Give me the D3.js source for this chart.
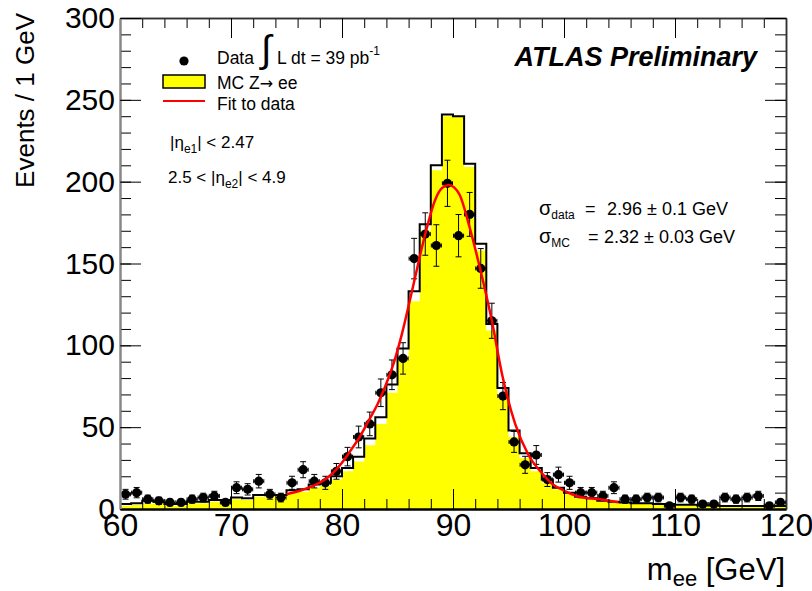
<!DOCTYPE html>
<html>
<head>
<meta charset="utf-8">
<script src="https://cdn.jsdelivr.net/npm/d3@7"></script>
<style>
  body { margin: 0; background: #fff; }
  svg { font-family: "Liberation Sans", Arial, sans-serif; }
</style>
</head>
<body>
<div id="chart"></div>
<script>
// Data: 1 GeV bins from 60 to 120 GeV
const binLow = d3.range(60, 120);

const dataCounts = [
  9, 10, 6, 5, 4, 4, 6, 7, 8, 4,
  13, 12, 17, 9, 7, 16, 24, 17, 16, 23,
  32, 44, 52, 71, 82, 92, 153, 168, 161, 199,
  167, 180, 147, 115, 69, 41, 27, 33, 18, 21,
  16, 10, 10, 8, 13, 6, 6, 7, 7, 2,
  7, 6, 3, 3, 7, 6, 7, 8, 2, 4
];

// MC outline (black step line)
const mcLine = [
  3, 3.5, 5, 4.5, 3, 3, 4.5, 4.5, 5.5, 5.5,
  7, 6.5, 8.5, 8.5, 8.5, 11.5, 12, 15, 16, 20,
  25, 32, 43, 56, 76, 98, 133, 174, 210, 241,
  240, 211, 162, 113, 74, 48, 34, 25, 18, 13,
  10, 7.5, 6.5, 5, 4.5, 4, 3.5, 3.5, 3, 3,
  2.6, 2.6, 2.2, 2.2, 1.8, 1.8, 1.8, 1.8, 1.8, 1.8
];

// MC fill (yellow)
const mcFill = [
  2, 2.5, 3, 3.5, 2, 2, 3.5, 3.5, 4.5, 4.5,
  6, 5.5, 7.5, 7.5, 7.5, 10, 10.5, 13, 14, 18,
  23, 29, 39, 52, 71, 92, 127, 170, 207, 240,
  240, 209, 158, 109, 70, 44, 31, 23, 16, 12,
  9, 6.5, 5.5, 4.5, 4, 3.5, 3, 3, 2.5, 2.5,
  2.2, 2.2, 1.8, 1.8, 1.5, 1.5, 1.5, 1.5, 1.5, 1.5
];

// Fit to data
const fitMass = [75.0, 76.4, 77.6, 78.8, 79.6, 80.3, 80.9, 81.6, 82.4, 83.2, 83.9, 84.7, 85.4, 86.4, 87.5, 88.4, 89.0, 89.6, 90.1, 90.6, 91.5, 92.4, 93.5, 94.4, 95.6, 96.8, 98.0, 99.0, 99.9, 101.4, 103.2, 104.9];
const fitValue = [9, 11.6, 14.7, 19.7, 25, 31, 37, 44, 54, 64, 75, 90, 107, 136, 168, 189, 196, 198, 196.5, 192, 172, 148, 115, 83, 52, 33, 22, 15, 11.6, 7.5, 5.9, 4.1];

const xTicks = [60, 70, 80, 90, 100, 110, 120];
const yTicks = [0, 50, 100, 150, 200, 250, 300];

// Dimensions
const dimensions = {
  width: 812,
  height: 591,
  left: 120,
  right: 786,
  top: 18,
  bottom: 509,
};

const svg = d3
  .select("#chart")
  .append("svg")
  .attr("width", dimensions.width)
  .attr("height", dimensions.height);

// Scales
const xScale = d3.scaleLinear().domain([60, 120]).range([dimensions.left, dimensions.right]);
const yScale = d3.scaleLinear().domain([0, 300]).range([dimensions.bottom, dimensions.top]);

// MC fill
const fillArea = d3
  .area()
  .curve(d3.curveStepAfter)
  .x((d) => xScale(d.x))
  .y0(yScale(0))
  .y1((d) => yScale(d.y));

const fillPts = binLow.map((x, i) => ({ x, y: mcFill[i] }));
fillPts.push({ x: 120, y: mcFill[mcFill.length - 1] });

svg.append("path").attr("d", fillArea(fillPts)).attr("fill", "#ffff00");

// MC outline
const stepLine = d3
  .line()
  .curve(d3.curveStepAfter)
  .x((d) => xScale(d.x))
  .y((d) => yScale(d.y));

const linePts = binLow.map((x, i) => ({ x, y: mcLine[i] }));
linePts.push({ x: 120, y: mcLine[mcLine.length - 1] });

svg
  .append("path")
  .attr("d", stepLine(linePts))
  .attr("fill", "none")
  .attr("stroke", "#000")
  .attr("stroke-width", 2);

// Data points with errors
const pts = svg.append("g");
binLow.forEach((x, i) => {
  const n = dataCounts[i];
  const cx = xScale(x + 0.5);
  const cy = yScale(n);
  const err = Math.sqrt(n);
  const yHi = yScale(n + err);
  const yLo = yScale(Math.max(0, n - err));
  const g = pts.append("g").attr("stroke", "#000").attr("stroke-width", 1);
  g.append("line").attr("x1", cx).attr("x2", cx).attr("y1", yHi).attr("y2", yLo);
  g.append("line").attr("x1", cx - 3).attr("x2", cx + 3).attr("y1", yHi).attr("y2", yHi);
  g.append("line").attr("x1", cx - 3).attr("x2", cx + 3).attr("y1", yLo).attr("y2", yLo);
  const x0 = xScale(x), x1 = xScale(x + 1);
  g.append("line").attr("x1", x0 + 0.5).attr("x2", x1 - 0.5).attr("y1", cy).attr("y2", cy);
  g.append("line").attr("x1", x0 + 0.5).attr("x2", x0 + 0.5).attr("y1", cy - 2).attr("y2", cy + 2);
  g.append("line").attr("x1", x1 - 0.5).attr("x2", x1 - 0.5).attr("y1", cy - 2).attr("y2", cy + 2);
  pts.append("circle").attr("cx", cx).attr("cy", cy).attr("r", 4.6).attr("fill", "#000");
});

// Fit curve
const fitLine = d3
  .line()
  .curve(d3.curveMonotoneX)
  .x((d, i) => xScale(fitMass[i]))
  .y((d) => yScale(d));

svg
  .append("path")
  .attr("d", fitLine(fitValue))
  .attr("fill", "none")
  .attr("stroke", "#ff0000")
  .attr("stroke-width", 2.5);

// Axes (ROOT style, ticks inward on all sides)
const minorX = d3.range(60, 121, 2);
const minorY = d3.range(0, 301, 10);

function styleAxis(g, color, width) {
  g.select(".domain").attr("stroke", color).attr("stroke-width", width);
  g.selectAll(".tick line").attr("stroke", "#000").attr("stroke-width", 1);
}

// bottom
svg.append("g")
  .attr("transform", `translate(0, ${dimensions.bottom})`)
  .call(d3.axisBottom(xScale).tickValues(minorX).tickSize(-10).tickSizeOuter(0).tickFormat(""))
  .call((g) => styleAxis(g, "#000", 2));
const xAxisG = svg.append("g")
  .attr("transform", `translate(0, ${dimensions.bottom})`)
  .call(d3.axisBottom(xScale).tickValues(xTicks).tickSize(-20).tickSizeOuter(0).tickPadding(4))
  .call((g) => styleAxis(g, "#000", 2));
xAxisG.selectAll("text").attr("font-size", 32).attr("fill", "#000").attr("font-family", "Liberation Sans, Arial, sans-serif");

// top
svg.append("g")
  .attr("transform", `translate(0, ${dimensions.top})`)
  .call(d3.axisTop(xScale).tickValues(minorX).tickSize(-10).tickSizeOuter(0).tickFormat(""))
  .call((g) => styleAxis(g, "#333", 1.5));
svg.append("g")
  .attr("transform", `translate(0, ${dimensions.top})`)
  .call(d3.axisTop(xScale).tickValues(xTicks).tickSize(-20).tickSizeOuter(0).tickFormat(""))
  .call((g) => styleAxis(g, "#333", 1.5));

// right
svg.append("g")
  .attr("transform", `translate(${dimensions.right}, 0)`)
  .call(d3.axisRight(yScale).tickValues(minorY).tickSize(-11).tickSizeOuter(0).tickFormat(""))
  .call((g) => styleAxis(g, "#333", 1.5));
svg.append("g")
  .attr("transform", `translate(${dimensions.right}, 0)`)
  .call(d3.axisRight(yScale).tickValues(yTicks).tickSize(-21).tickSizeOuter(0).tickFormat(""))
  .call((g) => styleAxis(g, "#333", 1.5));

// left
svg.append("g")
  .attr("transform", `translate(${dimensions.left}, 0)`)
  .call(d3.axisLeft(yScale).tickValues(minorY).tickSize(-11).tickSizeOuter(0).tickFormat(""))
  .call((g) => styleAxis(g, "#888", 2));
const yAxisG = svg.append("g")
  .attr("transform", `translate(${dimensions.left}, 0)`)
  .call(d3.axisLeft(yScale).tickValues(yTicks).tickSize(-21).tickSizeOuter(0).tickPadding(5))
  .call((g) => styleAxis(g, "#888", 2));
yAxisG.selectAll("text").attr("font-size", 30).attr("fill", "#000").attr("font-family", "Liberation Sans, Arial, sans-serif");

// Axis titles
svg.append("text")
  .attr("transform", "translate(34, 13) rotate(-90)")
  .attr("text-anchor", "end")
  .attr("font-size", 26)
  .text("Events / 1 GeV");

const xTitle = svg.append("text")
  .attr("x", 785)
  .attr("y", 580)
  .attr("text-anchor", "end")
  .attr("font-size", 31);
xTitle.append("tspan").text("m");
xTitle.append("tspan").attr("font-size", 22).attr("dy", 6).text("ee");
xTitle.append("tspan").attr("dy", -6).text(" [GeV]");

// ATLAS label
svg.append("text")
  .attr("x", 757)
  .attr("y", 66)
  .attr("text-anchor", "end")
  .attr("font-size", 27)
  .attr("font-weight", "bold")
  .attr("font-style", "italic")
  .text("ATLAS Preliminary");

// Legend
const legend = svg.append("g").attr("font-size", 17.5);
legend.append("circle").attr("cx", 184).attr("cy", 61).attr("r", 4.6).attr("fill", "#000");
legend.append("text").attr("x", 217).attr("y", 64).text("Data");
legend.append("text").attr("x", 261).attr("y", 62).attr("font-size", 38).text("\u222B");
const lumi = legend.append("text").attr("x", 277).attr("y", 64);
lumi.append("tspan").text("L dt = 39 pb");
lumi.append("tspan").attr("font-size", 12).attr("dy", -9).text("-1");

legend.append("rect")
  .attr("x", 163).attr("y", 75).attr("width", 42).attr("height", 13)
  .attr("fill", "#ffff00").attr("stroke", "#000").attr("stroke-width", 1.5);
const mcText = legend.append("text").attr("x", 217).attr("y", 88.5);
mcText.append("tspan").text("MC Z");
mcText.append("tspan").attr("font-family", "DejaVu Sans").attr("font-size", 16).text("\u2192");
mcText.append("tspan").text(" ee");
legend.append("line")
  .attr("x1", 163).attr("x2", 205).attr("y1", 101).attr("y2", 101)
  .attr("stroke", "#ff0000").attr("stroke-width", 2);
legend.append("text").attr("x", 217).attr("y", 109.5).text("Fit to data");

// Eta cuts
const cuts = svg.append("g").attr("font-size", 17);
const c1 = cuts.append("text").attr("x", 170).attr("y", 148);
c1.append("tspan").text("|\u03B7");
c1.append("tspan").attr("font-size", 12).attr("dy", 5).text("e1");
c1.append("tspan").attr("dy", -5).text("| < 2.47");
const c2 = cuts.append("text").attr("x", 168).attr("y", 183);
c2.append("tspan").text("2.5 < |\u03B7");
c2.append("tspan").attr("font-size", 12).attr("dy", 5).text("e2");
c2.append("tspan").attr("dy", -5).text("| < 4.9");

// Resolutions
const res = svg.append("g").attr("font-size", 18);
const r1 = res.append("text").attr("x", 539).attr("y", 215);
r1.append("tspan").attr("font-size", 20).text("\u03C3");
r1.append("tspan").attr("font-size", 12).attr("dy", 4).text("data");
res.append("text").attr("x", 585).attr("y", 215).text("=");
res.append("text").attr("x", 607).attr("y", 215).text("2.96 \u00B1 0.1 GeV");
const r2 = res.append("text").attr("x", 539).attr("y", 243);
r2.append("tspan").attr("font-size", 20).text("\u03C3");
r2.append("tspan").attr("font-size", 12).attr("dy", 4).text("MC");
res.append("text").attr("x", 588).attr("y", 243).text("=");
res.append("text").attr("x", 604).attr("y", 243).text("2.32 \u00B1 0.03 GeV");
</script>
</body>
</html>
